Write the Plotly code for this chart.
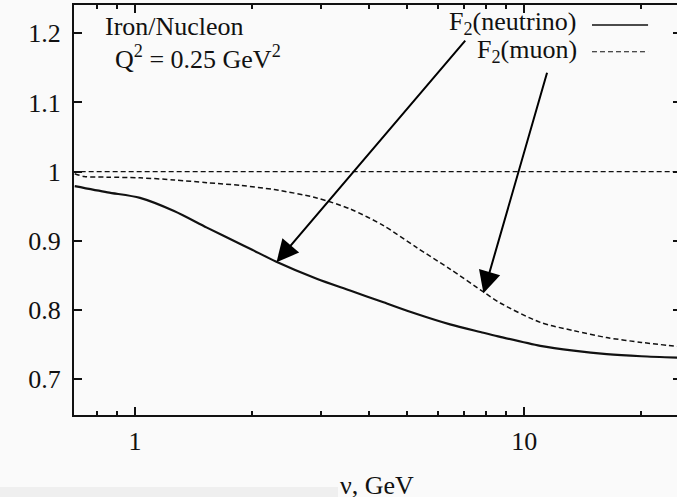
import math
import plotly.graph_objects as go

# ---- data ----
nu_neutrino = [0.7, 0.85, 1.03, 1.26, 1.53, 1.87, 2.0, 2.3, 2.93, 3.57, 4.35, 5.3,
               6.45, 7.86, 8.68, 11.0, 13.4, 16.3, 20.0, 25.0]
f2_neutrino = [0.979, 0.970, 0.962, 0.943, 0.919, 0.895, 0.887, 0.870, 0.845, 0.828,
               0.811, 0.794, 0.779, 0.767, 0.761, 0.748, 0.741, 0.736, 0.733, 0.731]

nu_muon = [0.7, 0.74, 0.85, 1.03, 1.26, 1.53, 1.87, 2.28, 2.93, 3.57, 4.35, 5.3,
           6.45, 7.86, 8.68, 11.0, 13.4, 16.3, 20.0, 25.0]
f2_muon = [0.997, 0.993, 0.992, 0.991, 0.988, 0.984, 0.980, 0.974, 0.962, 0.946,
           0.922, 0.890, 0.859, 0.826, 0.810, 0.782, 0.770, 0.760, 0.753, 0.747]

ref_nu = [0.6, 30.0]
ref_val = [1.0, 1.0]

y_ticks = [0.7, 0.8, 0.9, 1.0, 1.1, 1.2]
y_ticktext = ["0.7", "0.8", "0.9", "1", "1.1", "1.2"]
x_ticks = [1, 10]
x_ticktext = ["1", "10"]
x_minor = [0.7, 0.8, 0.9, 2, 3, 4, 5, 6, 7, 8, 9, 20]

# arrow targets (points on the curves)
arrow_nu_neutrino, arrow_f2_neutrino = 2.31, 0.869
arrow_nu_muon, arrow_f2_muon = 7.86, 0.824

FONT = "Liberation Serif"
INK = "#111111"
BG = "#fafafa"

x_range = [math.log10(0.697), math.log10(24.7)]
y_range = [0.648, 1.241]

fig = go.Figure()
fig.add_trace(go.Scatter(x=ref_nu, y=ref_val, mode="lines",
                         line=dict(color=INK, width=1.4, dash="5px,3px"),
                         showlegend=False, hoverinfo="skip"))
fig.add_trace(go.Scatter(x=nu_neutrino, y=f2_neutrino, mode="lines",
                         line=dict(color=INK, width=2.2, shape="spline", smoothing=0.8),
                         name="F2(neutrino)", showlegend=False))
fig.add_trace(go.Scatter(x=nu_muon, y=f2_muon, mode="lines",
                         line=dict(color=INK, width=1.5, dash="5px,3px", shape="spline", smoothing=0.8),
                         name="F2(muon)", showlegend=False))
# carrier trace for the mirrored top / right axes
fig.add_trace(go.Scatter(x=[1], y=[1], xaxis="x2", yaxis="y2", mode="markers",
                         marker=dict(opacity=0), showlegend=False, hoverinfo="skip"))

axis_font = dict(family=FONT, size=26, color=INK)

fig.update_layout(
    width=677, height=497,
    margin=dict(l=74, r=0, t=5, b=82),
    paper_bgcolor=BG, plot_bgcolor=BG,
    showlegend=False,
    xaxis=dict(type="log", range=x_range, showgrid=False, zeroline=False,
               showline=True, linecolor=INK, linewidth=2,
               ticks="inside", ticklen=8, tickwidth=1.5, tickcolor=INK,
               tickvals=x_ticks, ticktext=x_ticktext, tickfont=axis_font,
               ticklabelstandoff=2,
               minor=dict(tickvals=x_minor, ticks="inside", ticklen=4,
                          tickwidth=1.5, tickcolor=INK, showgrid=False)),
    yaxis=dict(range=y_range, showgrid=False, zeroline=False,
               showline=True, linecolor=INK, linewidth=2,
               ticks="inside", ticklen=8, tickwidth=1.5, tickcolor=INK,
               tickvals=y_ticks, ticktext=y_ticktext, tickfont=axis_font,
               ticklabelstandoff=6),
    xaxis2=dict(type="log", range=x_range, overlaying="x", side="top", anchor="y2",
                showgrid=False, zeroline=False, showline=True, linecolor=INK, linewidth=2,
                ticks="inside", ticklen=8, tickwidth=1.5, tickcolor=INK,
                tickvals=x_ticks, showticklabels=False,
                minor=dict(tickvals=x_minor, ticks="inside", ticklen=4,
                           tickwidth=1.5, tickcolor=INK, showgrid=False)),
    yaxis2=dict(range=y_range, overlaying="y", side="right", anchor="x2",
                showgrid=False, zeroline=False, showline=False,
                ticks="inside", ticklen=4, tickwidth=1.5, tickcolor=INK,
                tickvals=y_ticks, showticklabels=False),
)

txt = dict(family=FONT, size=26, color=INK)
annotations = [
    dict(text="Iron/Nucleon", x=0.048, y=0.948, xref="paper", yref="paper",
         xanchor="left", yanchor="middle", showarrow=False, font=txt),
    dict(text="Q<sup>2</sup> = 0.25 GeV<sup>2</sup>", x=0.064, y=0.872, xref="paper", yref="paper",
         xanchor="left", yanchor="middle", showarrow=False, font=txt),
    dict(text="F<sub>2</sub>(neutrino)", x=0.837, y=0.955, xref="paper", yref="paper",
         xanchor="right", yanchor="middle", showarrow=False, font=txt),
    dict(text="F<sub>2</sub>(muon)", x=0.837, y=0.888, xref="paper", yref="paper",
         xanchor="right", yanchor="middle", showarrow=False, font=txt),
    dict(text="ν, GeV", x=(377 - 74) / 603, y=(415 - 469) / 410, xref="paper", yref="paper",
         xanchor="center", yanchor="top", showarrow=False, font=txt),
    dict(text="", x=math.log10(arrow_nu_neutrino), y=arrow_f2_neutrino, xref="x", yref="y",
         showarrow=True, arrowhead=2, arrowsize=2.2, arrowwidth=2, arrowcolor="#000000",
         ax=190, ay=-223, standoff=0),
    dict(text="", x=math.log10(arrow_nu_muon), y=arrow_f2_muon, xref="x", yref="y",
         showarrow=True, arrowhead=2, arrowsize=2.2, arrowwidth=2, arrowcolor="#000000",
         ax=64, ay=-222, standoff=0),
]
fig.update_layout(annotations=annotations)

shapes = [
    # key samples
    dict(type="line", xref="paper", yref="paper", x0=0.859, x1=0.952, y0=0.951, y1=0.951,
         line=dict(color=INK, width=1.5)),
    dict(type="line", xref="paper", yref="paper", x0=0.859, x1=0.952, y0=0.886, y1=0.886,
         line=dict(color=INK, width=1.2, dash="5px,3px")),
    # light grey strip at the bottom-left of the screenshot
    dict(type="rect", xref="paper", yref="paper", x0=-0.13, x1=(338 - 74) / 603,
         y0=-0.21, y1=(415 - 487) / 410, line=dict(width=0), fillcolor="#efefef", layer="below"),
]
fig.update_layout(shapes=shapes)

fig.write_html(
    "out.html",
    config={"displayModeBar": False},
    post_script="document.body.style.margin='0';document.body.style.overflow='hidden';"
                "document.body.style.background='#fafafa';",
)
